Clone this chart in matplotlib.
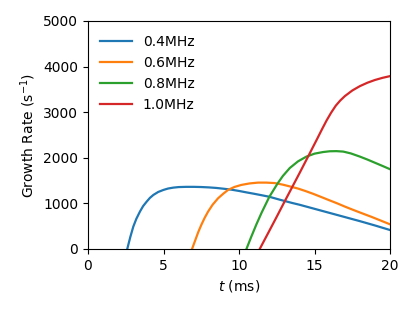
import matplotlib
matplotlib.use("Agg")
import matplotlib.pyplot as plt

labels = ["0.4MHz", "0.6MHz", "0.8MHz", "1.0MHz"]

t_04 = [2.6, 2.8, 3.0, 3.2, 3.44, 3.65, 3.89, 4.1, 4.33, 4.65, 5.0, 5.3, 5.65, 6.0,
        6.5, 7.0, 7.5, 8.0, 8.5, 9.0, 9.5, 10.0, 10.5, 11.0, 11.5, 12.0, 12.7,
        13.5, 14.0, 15.0, 16.0, 17.0, 18.0, 19.0, 20.0]
g_04 = [0, 260, 490, 660, 820, 940, 1040, 1120, 1185, 1250, 1295, 1325, 1345, 1357,
        1362, 1362, 1358, 1350, 1338, 1320, 1300, 1272, 1240, 1210, 1178, 1145, 1080,
        1010, 970, 880, 790, 700, 610, 515, 415]

t_06 = [6.89, 7.1, 7.3, 7.5, 7.72, 7.95, 8.25, 8.61, 8.95, 9.27, 9.7, 10.15, 10.7,
        11.26, 11.8, 12.36, 12.9, 13.38, 13.9, 14.4, 14.9, 15.36, 16.0, 16.5, 17.0,
        17.57, 18.2, 18.8, 19.4, 20.0]
g_06 = [0, 190, 370, 526, 680, 819, 970, 1111, 1210, 1294, 1360, 1404, 1437,
        1455, 1455, 1445, 1410, 1370, 1325, 1270, 1210, 1150, 1065, 1000, 930,
        855, 775, 700, 620, 540]

t_08 = [10.49, 10.8, 11.15, 11.5, 12.0, 12.54, 12.9, 13.36, 13.9, 14.46, 15.0,
        15.56, 16.0, 16.44, 16.9, 17.4, 18.0, 18.5, 19.0, 19.5, 20.0]
g_08 = [0, 260, 540, 800, 1140, 1430, 1600, 1775, 1920, 2025, 2090,
        2125, 2142, 2145, 2135, 2095, 2025, 1960, 1890, 1820, 1748]

t_10 = [11.37, 12.0, 12.5, 13.0, 13.5, 14.0, 14.6, 15.15, 15.5, 15.8, 16.1, 16.4,
        16.7, 17.0, 17.5, 18.0, 18.5, 19.0, 19.5, 20.0]
g_10 = [0, 395, 710, 1030, 1345, 1660, 2045, 2400, 2630, 2820, 2990, 3140,
        3255, 3350, 3475, 3570, 3645, 3705, 3752, 3790]

colors = ["#1f77b4", "#ff7f0e", "#2ca02c", "#d62728"]

fig = plt.figure(figsize=(4.15, 3.12), dpi=100)
ax = fig.add_axes([0.212, 0.202, 0.728, 0.731])
for (t, g), lab, c in zip([(t_04, g_04), (t_06, g_06), (t_08, g_08), (t_10, g_10)], labels, colors):
    ax.plot(t, g, color=c, lw=1.6, label=lab)
ax.set_xlim(0, 20)
ax.set_ylim(0, 5000)
ax.set_xticks([0, 5, 10, 15, 20])
ax.set_yticks([0, 1000, 2000, 3000, 4000, 5000])
ax.set_xlabel("$t$ (ms)")
ax.set_ylabel("Growth Rate (s$^{-1}$)")
ax.legend(loc="upper left", frameon=False, handlelength=2.25,
          bbox_to_anchor=(0.0, 0.993))
fig.savefig("out.png", dpi=100)
